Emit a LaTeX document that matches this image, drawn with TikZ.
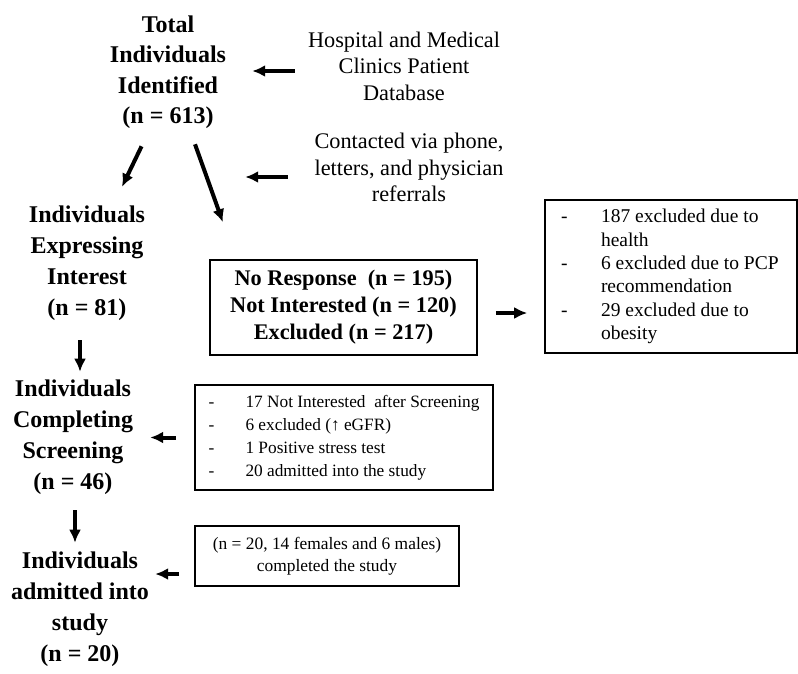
\documentclass[tikz,border=0pt]{standalone}
\usepackage{fontspec}
\setmainfont{Liberation Serif}
\usetikzlibrary{arrows.meta}

\begin{document}
\begin{tikzpicture}[x=1pt,y=-1pt,
    stage/.style={align=center,inner sep=0pt,font=\fontsize{24pt}{31pt}\selectfont\bfseries},
    source/.style={align=center,inner sep=0pt,font=\fontsize{22.3pt}{26.5pt}\selectfont},
    tally/.style={draw,line width=1.6pt,inner sep=0pt},
    arr/.style={line width=4pt,-{Latex[length=13pt,width=12pt]}}]
  \useasboundingbox[fill=white] (0,0) rectangle (798,673);

  % left column
  \node[stage,font=\fontsize{24pt}{30.5pt}\selectfont\bfseries] (total) at (168,72) {Total\\Individuals\\Identified\\(n = 613)};
  \node[stage] (express) at (87,263) {Individuals\\Expressing\\Interest\\(n = 81)};
  \node[stage] (screen) at (73,437.5) {Individuals\\Completing\\Screening\\(n = 46)};
  \node[stage] (admit) at (80,609.5) {Individuals\\admitted into\\study\\(n = 20)};

  % sources
  \node[source] (hosp) at (404,66) {Hospital and Medical\\Clinics Patient\\Database};
  \node[source] (contact) at (409,167.5) {Contacted via phone,\\letters, and physician\\referrals};

  % boxes
  \node[tally,minimum width=267pt,minimum height=95pt,align=center,
    font=\fontsize{22.3pt}{27pt}\selectfont\bfseries] (nores) at (343.5,307.5)
    {No Response\ \ (n = 195)\\Not Interested (n = 120)\\Excluded (n = 217)};
  \node[tally,minimum width=252pt,minimum height=153pt,
    font=\fontsize{19.5pt}{23.3pt}\selectfont] (excl) at (671,276.5)
    {\begin{tabular}{@{}p{40pt}@{}p{180pt}@{}}
      - & 187 excluded due to\\ & health\\
      - & 6 excluded due to PCP\\ & recommendation\\
      - & 29 excluded due to\\ & obesity
    \end{tabular}};
  \node[tally,minimum width=298pt,minimum height=105pt,
    font=\fontsize{17.3pt}{23pt}\selectfont] (sbox) at (344,437.5)
    {\begin{tabular}{@{}p{37pt}@{}l@{}}
      - & 17 Not Interested\ \ after Screening\\
      - & 6 excluded (↑ eGFR)\\
      - & 1 Positive stress test\\
      - & 20 admitted into the study
    \end{tabular}};
  \node[tally,minimum width=264pt,minimum height=60pt,align=center,
    font=\fontsize{17.4pt}{22pt}\selectfont] (cbox) at (327,556)
    {(n = 20, 14 females and 6 males)\\completed the study};

  % arrows
  \draw[arr,shorten <=13pt,shorten >=26pt] ([yshift=-5pt]hosp.west) -- ([yshift=-5pt]hosp.west -| total.east);
  \draw[arr,shorten <=26.5pt,shorten >=19pt] ([yshift=-9.5pt]contact.west) -- ([yshift=-9.5pt]contact.west -| total.east);
  \draw[arr,shorten <=19.4pt,shorten >=20.7pt] ([xshift=-18pt]total.south) -- ([xshift=26pt]express.north);
  \draw[arr,shorten <=16.4pt,shorten >=39.3pt] ([xshift=21.5pt]total.south) -- ([xshift=-107.4pt]nores.north);
  \draw[arr,shorten <=18pt,shorten >=17pt] ([yshift=-5.5pt]nores.east) -- ([yshift=-5.5pt]nores.east -| excl.west);
  \draw[arr,shorten <=19.7pt,shorten >=8.2pt] ([xshift=-7pt]express.south) -- ([xshift=-7pt]express.south |- screen.north);
  \draw[arr,shorten <=18pt,shorten >=17pt] (sbox.west) -- (sbox.west -| screen.east);
  \draw[arr,shorten <=15.2pt,shorten >=9.2pt] ([xshift=2pt]screen.south) -- ([xshift=2pt]screen.south |- admit.north);
  \draw[arr,shorten <=15pt,shorten >=6pt] ([yshift=-18pt]cbox.west) -- ([yshift=-18pt]cbox.west -| admit.east);
\end{tikzpicture}
\end{document}
